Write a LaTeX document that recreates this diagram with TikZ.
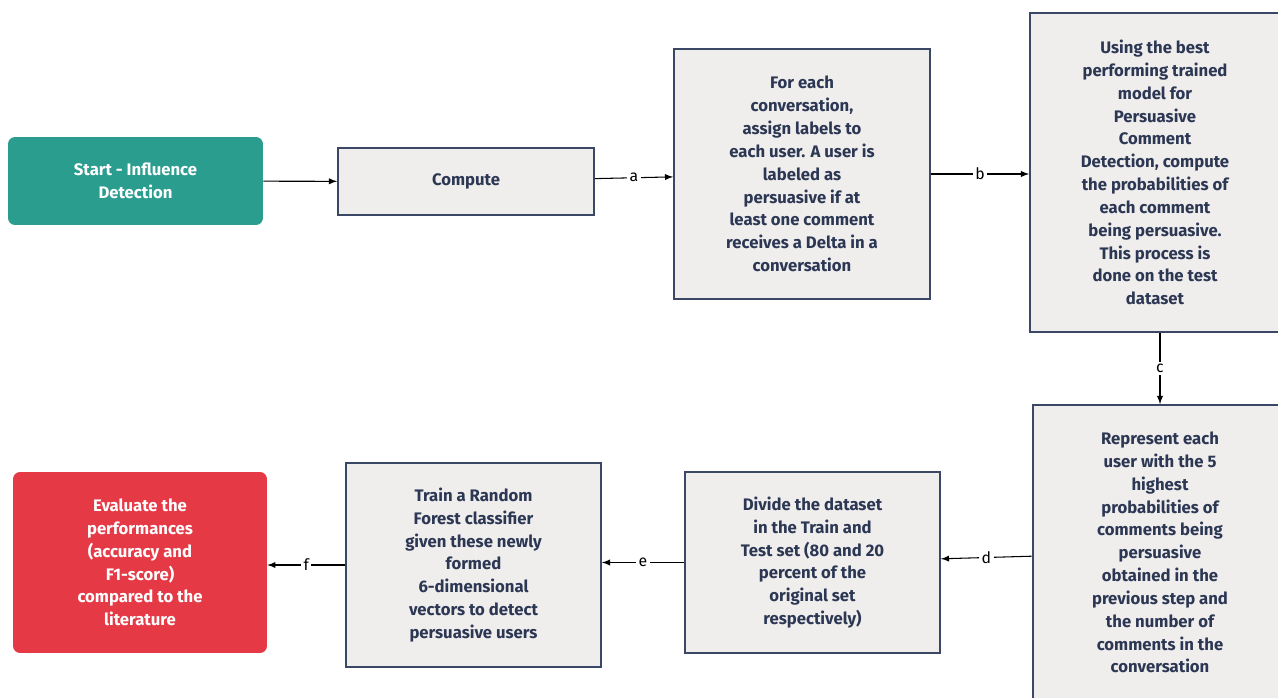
\documentclass[tikz,border=0pt]{standalone}
\usepackage{fontspec}
\setmainfont{Fira Sans}
\usetikzlibrary{arrows, positioning, calc}
\definecolor{boxfill}{HTML}{F0EDED}
\definecolor{boxline}{HTML}{3A4866}
\definecolor{boxtext}{HTML}{2B3753}
\definecolor{startgreen}{HTML}{2A9D8F}
\definecolor{endred}{HTML}{E63946}

\begin{document}
\begin{tikzpicture}[x=0.02cm, y=-0.02cm, every node/.style={font=\small},
		stepbox/.style={draw=boxline, line width=1.1pt, fill=boxfill, text=boxtext, align=center, inner sep=0pt, font=\bfseries\fontsize{9.5}{13}\selectfont},
		termbox/.style={rounded corners=4pt, text=white, align=center, inner sep=0pt, font=\bfseries\fontsize{9.5}{13}\selectfont},
		flow/.style={-latex, line width=0.6pt, black},
		lbl/.style={fill=white, inner sep=1.5pt, font=\fontsize{9}{11}\selectfont}]
		\useasboundingbox (0,0) rectangle (1278,697);
		\node[termbox, fill=startgreen, minimum width=5.1cm, minimum height=1.76cm] (start) at (135.5,181) {Start - Influence\\Detection};
		\node[stepbox, minimum width=5.12cm, minimum height=1.34cm] (compute) at (466,181.5) {Compute};
		\node[stepbox, minimum width=5.12cm, minimum height=5cm] (assign) at (802,174) {For each\\conversation,\\assign labels to\\each user. A user is\\labeled as\\persuasive if at\\least one comment\\receives a Delta in a\\conversation};
		\node[stepbox, minimum width=5cm, minimum height=6.38cm] (probs) at (1155,172.5) {Using the best\\performing trained\\model for\\Persuasive\\Comment\\Detection, compute\\the probabilities of\\each comment\\being persuasive.\\This process is\\done on the test\\dataset};
		\node[stepbox, minimum width=5.1cm, minimum height=5.9cm] (represent) at (1160,552.5) {Represent each\\user with the 5\\highest\\probabilities of\\comments being\\persuasive\\obtained in the\\previous step and\\the number of\\comments in the\\conversation};
		\node[stepbox, minimum width=5.1cm, minimum height=3.62cm] (divide) at (812.5,562.5) {Divide the dataset\\in the Train and\\Test set (80 and 20\\percent of the\\original set\\respectively)};
		\node[stepbox, minimum width=5.1cm, minimum height=4.08cm] (train) at (473.5,565) {Train a Random\\Forest classifier\\given these newly\\formed\\6-dimensional\\vectors to detect\\persuasive users};
		\node[termbox, fill=endred, minimum width=5.08cm, minimum height=3.62cm] (evaluate) at (140,562.5) {Evaluate the\\performances\\(accuracy and\\F1-score)\\compared to the\\literature};
		% connectors
		\draw[flow] (start) -- (compute);
		\draw[flow] (compute) -- node[lbl] {a} (assign);
		\draw[flow] (assign) -- node[lbl] {b} (assign -| probs.west);
		\draw[flow] (probs.south -| represent) -- node[lbl] {c} (represent);
		\draw[flow] (represent) -- node[lbl] {d} (divide);
		\draw[flow] (divide) -- node[lbl] {e} (divide -| train.east);
		\draw[flow] (train) -- node[lbl] {f} (train -| evaluate.east);
	\end{tikzpicture}
\end{document}
